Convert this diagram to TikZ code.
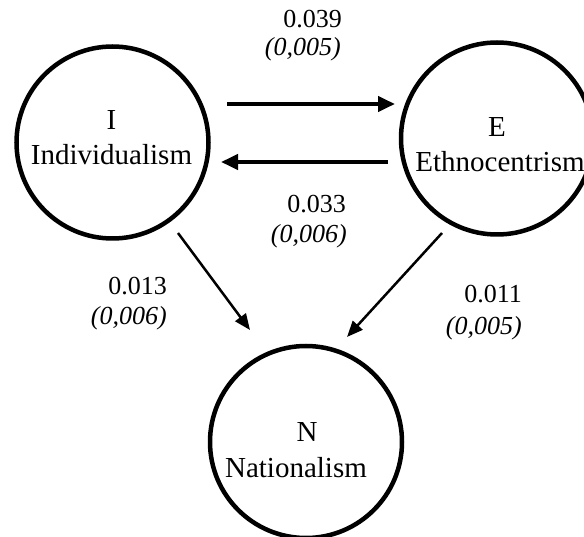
\documentclass[tikz,border=0pt]{standalone}
\usepackage{fontspec}
\setmainfont{Liberation Serif}
\usetikzlibrary{arrows.meta}
\begin{document}
\begin{tikzpicture}[x=1pt,y=-1pt,
  var/.style={circle,draw,line width=4.5pt,minimum size=192pt,inner sep=0pt},
  vtext/.style={anchor=base,inner sep=0pt,font=\fontsize{29}{34}\selectfont},
  coef/.style={anchor=base east,inner sep=0pt,font=\fontsize{26}{30}\selectfont},
  se/.style={anchor=base east,inner sep=0pt,font=\fontsize{26}{30}\selectfont\itshape},
  thick arrow/.style={line width=4pt,-{Triangle[length=17pt,width=15pt]}},
  thin arrow/.style={line width=2.5pt,-{Triangle[length=16pt,width=13pt]}}]
\useasboundingbox (0,0) rectangle (584,537);
\clip (0,0) rectangle (584,537);
% circles
\node[var] (I) at (112.5,142.5) {};
\node[var] (E) at (497,138.5) {};
\node[var] (N) at (306,442) {};
% circle texts
\node[vtext] (It) at (111.5,130) {I};
\node[vtext] (Il) at (111.5,165) {Individualism};
\node[vtext] (Et) at (497,137) {E};
\node[vtext] (El) at (500,172) {Ethnocentrism};
\node[vtext] (Nt) at (307,442) {N};
\node[vtext] (Nl) at (296,477) {Nationalism};
% arrow ends
\coordinate (a1s) at (227,104);
\coordinate (a1e) at (395,104);
\coordinate (a2s) at (388,162);
\coordinate (a2e) at (221,162);
\coordinate (a3s) at (178,233);
\coordinate (a3e) at (250,330);
\coordinate (a4s) at (442,233);
\coordinate (a4e) at (347,337);
\draw[thick arrow] (a1s) -- (a1e);
\draw[thick arrow] (a2s) -- (a2e);
\draw[thin arrow] (a3s) -- (a3e);
\draw[thin arrow] (a4s) -- (a4e);
% labels
\node[coef] (l1) at (342,28) {0.039};
\node[se] (l1s) at (341,56) {(0,005)};
\node[coef] (l2) at (346,213) {0.033};
\node[se] (l2s) at (347,243) {(0,006)};
\node[coef] (l3) at (167,295) {0.013};
\node[se] (l3s) at (167,325) {(0,006)};
\node[coef] (l4) at (522,303) {0.011};
\node[se] (l4s) at (522,335) {(0,005)};
\end{tikzpicture}
\end{document}
